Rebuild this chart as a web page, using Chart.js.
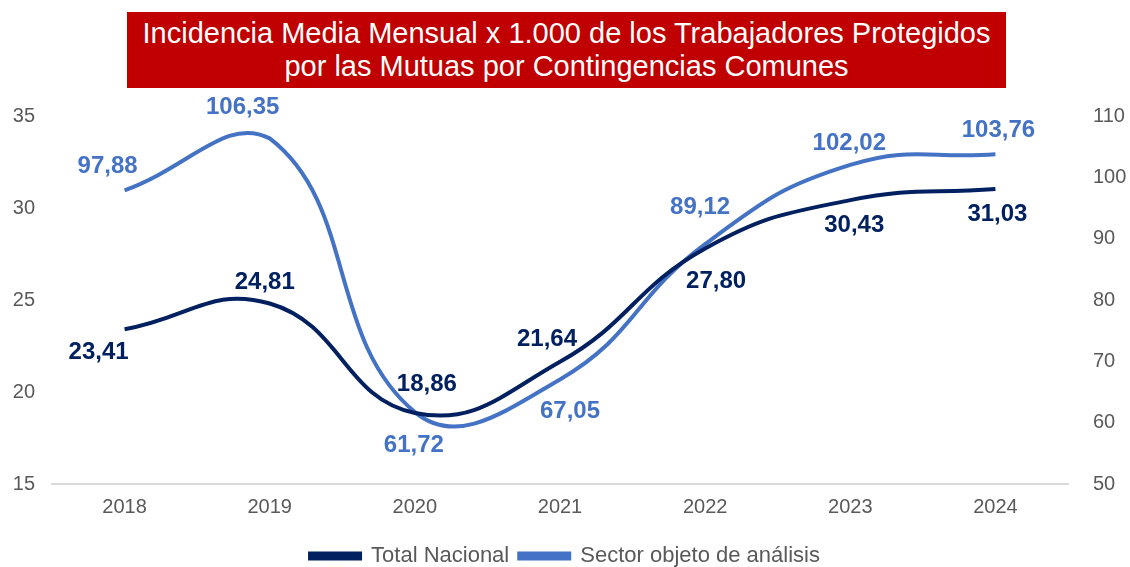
<!DOCTYPE html>
<html>
<head>
<meta charset="utf-8">
<script src="https://cdn.jsdelivr.net/npm/chart.js@4"></script>
<style>
  html, body { margin: 0; padding: 0; background: #fff; overflow: hidden; }
  #wrap { position: relative; width: 1130px; height: 567px; overflow: hidden; }
  #titulo {
    position: absolute; left: 127px; top: 12px; width: 879px; height: 76px;
    background: #C00000; color: #fff; text-align: center;
    font-family: "Liberation Sans", Arial, sans-serif; font-size: 29px; line-height: 33px;
    padding-top: 5px; box-sizing: border-box; white-space: nowrap;
  }
  canvas { position: absolute; left: 0; top: 0; }
</style>
</head>
<body>
<div id="wrap">
  <canvas id="grafico" width="1130" height="577"></canvas>
  <div id="titulo">Incidencia Media Mensual x 1.000 de los Trabajadores Protegidos<br>por las Mutuas por Contingencias Comunes</div>
</div>
<script>
// --- DATOS ---
const years = ['2018', '2019', '2020', '2021', '2022', '2023', '2024'];
const totalNacional = [23.41, 24.81, 18.86, 21.64, 27.80, 30.43, 31.03];
const sectorAnalisis = [97.88, 106.35, 61.72, 67.05, 89.12, 102.02, 103.76];

// desplazamiento de etiquetas (px) respecto al punto
const labelPosTotal = [[-26, 23], [-5, -21], [12, -29], [-13, -22], [11, 33], [4, 25], [2, 25]];
const labelPosSector = [[-17, -24], [-27, -31], [-1, 33], [10, 32], [-5, -37], [-1, -22], [3, -24]];

const FONT = '"Liberation Sans", Arial, sans-serif';
const fmt = v => v.toFixed(2).replace('.', ',');

// plugin propio para las etiquetas de datos
const etiquetas = {
  id: 'etiquetas',
  afterDatasetsDraw(chart) {
    const ctx = chart.ctx;
    ctx.save();
    ctx.font = 'bold 24px ' + FONT;
    ctx.textAlign = 'center';
    ctx.textBaseline = 'middle';
    chart.data.datasets.forEach((ds, i) => {
      const meta = chart.getDatasetMeta(i);
      const pos = i === 0 ? labelPosTotal : labelPosSector;
      ctx.fillStyle = ds.borderColor;
      meta.data.forEach((pt, j) => {
        ctx.fillText(fmt(ds.data[j]), pt.x + pos[j][0], pt.y + pos[j][1]);
      });
    });
    ctx.restore();
  }
};

const ctx = document.getElementById('grafico').getContext('2d');
new Chart(ctx, {
  type: 'line',
  data: {
    labels: years,
    datasets: [
      {
        label: 'Total Nacional',
        data: totalNacional,
        borderColor: '#002060',
        backgroundColor: '#002060',
        borderWidth: 4,
        pointRadius: 0,
        tension: 0.45,
        yAxisID: 'y'
      },
      {
        label: 'Sector objeto de análisis',
        data: sectorAnalisis,
        borderColor: '#4472C4',
        backgroundColor: '#4472C4',
        borderWidth: 4,
        pointRadius: 0,
        tension: 0.45,
        yAxisID: 'y1'
      }
    ]
  },
  options: {
    responsive: false,
    animation: false,
    layout: { padding: { top: 116, left: 0, right: 0, bottom: 0 } },
    plugins: {
      legend: {
        position: 'bottom',
        labels: {
          boxWidth: 50, boxHeight: 5, padding: 10,
          color: '#595959',
          font: { family: FONT, size: 22 }
        }
      },
      tooltip: { enabled: false }
    },
    scales: {
      x: {
        offset: true,
        afterFit: s => { s.height = 51; },
        grid: { display: false, drawTicks: false },
        border: { color: '#D9D9D9', width: 2 },
        ticks: {
          color: '#595959', padding: 11,
          font: { family: FONT, size: 20 }
        }
      },
      y: {
        position: 'left', min: 15, max: 35,
        afterFit: s => { s.width = 52; },
        grid: { display: false, drawTicks: false },
        border: { display: false },
        ticks: {
          stepSize: 5, color: '#595959', padding: 17,
          font: { family: FONT, size: 20 }
        }
      },
      y1: {
        position: 'right', min: 50, max: 110,
        afterFit: s => { s.width = 62; },
        grid: { display: false, drawTicks: false },
        border: { display: false },
        ticks: {
          stepSize: 10, color: '#595959', padding: 25,
          font: { family: FONT, size: 20 }
        }
      }
    }
  },
  plugins: [etiquetas]
});
</script>
</body>
</html>
